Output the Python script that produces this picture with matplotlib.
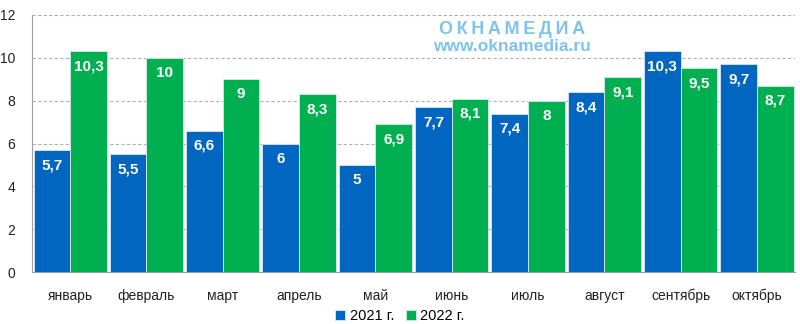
import numpy as np
import matplotlib.pyplot as plt

plt.rcParams['font.family'] = ['Liberation Sans', 'DejaVu Sans']

months = ['январь', 'февраль', 'март', 'апрель', 'май', 'июнь', 'июль',
          'август', 'сентябрь', 'октябрь']
y2021 = [5.7, 5.5, 6.6, 6.0, 5.0, 7.7, 7.4, 8.4, 10.3, 9.7]
y2022 = [10.3, 10.0, 9.0, 8.3, 6.9, 8.1, 8.0, 9.1, 9.5, 8.7]
labels2021 = ['5,7', '5,5', '6,6', '6', '5', '7,7', '7,4', '8,4', '10,3', '9,7']
labels2022 = ['10,3', '10', '9', '8,3', '6,9', '8,1', '8', '9,1', '9,5', '8,7']

fig = plt.figure(figsize=(8, 3.24), dpi=100)
ax = fig.add_axes([0.04, 0.16, 0.954, 0.794])

x = np.arange(len(months))
w = 0.48
b1 = ax.bar(x - w/2, y2021, w, color='#0066c0', edgecolor='#dce6f0', linewidth=0.6,
            label='2021 г.', zorder=3)
b2 = ax.bar(x + w/2, y2022, w, color='#00b050', edgecolor='#dce6f0', linewidth=0.6,
            label='2022 г.', zorder=3)

for bars, labs in ((b1, labels2021), (b2, labels2022)):
    for r, t in zip(bars, labs):
        ax.annotate(t, (r.get_x() + r.get_width()/2, r.get_height()),
                    xytext=(0, -11), textcoords='offset points',
                    ha='center', va='center', color='white',
                    fontsize=11, fontweight='bold', zorder=4)

ax.set_xlim(-0.5, len(months) - 0.5)
ax.set_ylim(0, 12)
ax.set_yticks(range(0, 13, 2))
ax.set_xticks(x)
ax.set_xticklabels(months)
ax.tick_params(length=0, labelsize=10, colors='#222222')
ax.tick_params(axis='x', pad=12)
ax.tick_params(axis='y', pad=12)
ax.grid(axis='y', linestyle=(0, (3, 2)), color='#b0b0b0', linewidth=0.8, zorder=0)
for s in ('top', 'right'):
    ax.spines[s].set_visible(False)
ax.spines['left'].set_color('#a0a0a0')
ax.spines['bottom'].set_color('#a0a0a0')

fig.legend(loc='center', bbox_to_anchor=(0.5, 0.025), ncol=2, frameon=False,
           fontsize=10.5, handlelength=0.7, handleheight=0.7, handletextpad=0.3,
           columnspacing=0.8)

fig.text(0.64, 0.91, '\u2009'.join('ОКНАМЕДИА'), color='#7cc4ee', fontsize=13,
         fontweight='bold', ha='center', va='center')
fig.text(0.64, 0.855, 'www.oknamedia.ru', color='#7cc4ee', fontsize=12.5,
         fontweight='bold', ha='center', va='center')

fig.savefig('out.png', dpi=100)
